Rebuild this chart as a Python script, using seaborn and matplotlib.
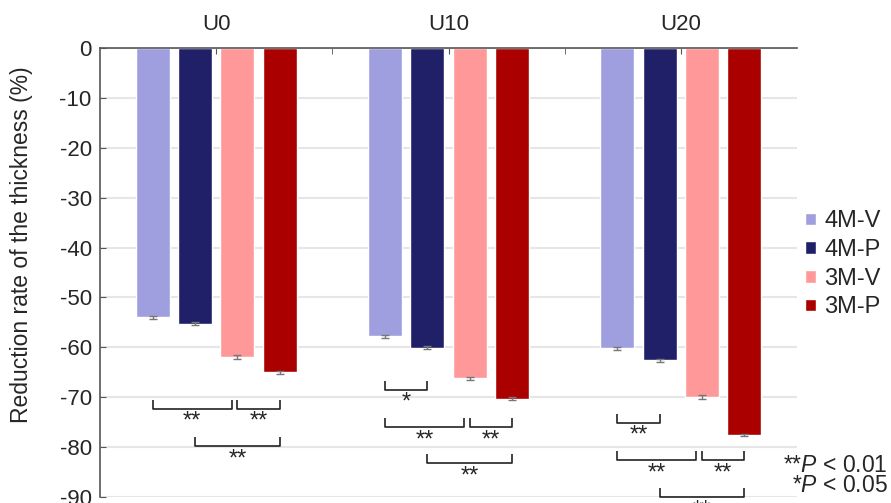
import matplotlib
matplotlib.use("Agg")
import matplotlib.pyplot as plt
from matplotlib.ticker import FixedLocator
import seaborn as sns
import pandas as pd

groups = ["U0", "U10", "U20"]
series = ["4M-V", "4M-P", "3M-V", "3M-P"]
vals_4MV = [-54.0, -57.8, -60.2]
vals_4MP = [-55.3, -60.1, -62.6]
vals_3MV = [-61.9, -66.2, -70.0]
vals_3MP = [-65.0, -70.3, -77.5]
err_4MV = [0.3, 0.3, 0.3]
err_4MP = [0.3, 0.3, 0.3]
err_3MV = [0.35, 0.35, 0.4]
err_3MP = [0.3, 0.35, 0.2]
colors = ["#9f9fdf", "#202068", "#ff9999", "#aa0000"]
yticks = [0, -10, -20, -30, -40, -50, -60, -70, -80, -90]

# significance: (group index, series i, series j, bracket bottom level, label)
sig = [
    (0, 0, 2, -72.3, "**"), (0, 2, 3, -72.3, "**"), (0, 1, 3, -79.8, "**"),
    (1, 0, 1, -68.5, "*"), (1, 0, 2, -76.0, "**"), (1, 2, 3, -76.0, "**"),
    (1, 1, 3, -83.2, "**"),
    (2, 0, 1, -75.1, "**"), (2, 0, 2, -82.6, "**"), (2, 2, 3, -82.6, "**"),
    (2, 1, 3, -90.0, "**"),
]

all_vals = [vals_4MV, vals_4MP, vals_3MV, vals_3MP]
all_errs = [err_4MV, err_4MP, err_3MV, err_3MP]
rows = []
for s, v in zip(series, all_vals):
    for g, val in zip(groups, v):
        rows.append({"group": g, "series": s, "value": val})
df = pd.DataFrame(rows)

sns.set_style("white")
plt.rcParams["font.family"] = ["Liberation Sans", "DejaVu Sans"]
plt.rcParams["mathtext.fontset"] = "custom"
plt.rcParams["mathtext.it"] = "Liberation Sans:italic"
plt.rcParams["mathtext.rm"] = "Liberation Sans"

fig = plt.figure(figsize=(8.91, 5.03), dpi=100)
ax = fig.add_axes([100 / 891, 1 - 497 / 503, 697 / 891, 449 / 503])

sns.barplot(data=df, x="group", y="value", hue="series", order=groups,
            hue_order=series, palette=colors, width=0.73, gap=0.2,
            errorbar=None, ax=ax, saturation=1)

bar_conts = [c for c in ax.containers]
centers = []
for k, cont in enumerate(bar_conts):
    xs = [b.get_x() + b.get_width() / 2 for b in cont.patches]
    centers.append(xs)
for k in range(len(series)):
    ax.errorbar(centers[k], all_vals[k], yerr=all_errs[k], fmt="none",
                ecolor="#777777", elinewidth=1, capsize=3, capthick=1, zorder=3)

h = 1.8
for g, i, j, yb, lab in sig:
    xi = centers[i][g]
    xj = centers[j][g]
    # shorten right end when another bracket starts at j on the same level
    if any(gg == g and ii == j and yy == yb for gg, ii, jj, yy, _ in sig):
        xj -= 0.025
    ax.plot([xi, xi, xj, xj], [yb + h, yb, yb, yb + h], color="#222222",
            lw=1.2, clip_on=False, solid_capstyle="butt", zorder=4)
    ax.annotate(lab, ((xi + xj) / 2, yb), xytext=(0, -1.5),
                textcoords="offset points", ha="center", va="top",
                fontsize=17, annotation_clip=False)

ax.set_ylim(-90, 0)
ax.set_xlim(-0.5, 2.5)
ax.set_yticks(yticks)
ax.set_yticklabels([str(t) for t in yticks], fontsize=16)
ax.set_ylabel("Reduction rate of the thickness (%)", fontsize=16.5)
ax.yaxis.set_label_coords(-0.096, 0.563)
ax.set_xlabel("")
ax.xaxis.tick_top()
ax.xaxis.set_minor_locator(FixedLocator([0.5, 1.5]))
ax.tick_params(axis="x", which="both", direction="in", length=4,
               color="#555555", labelsize=16, pad=9, top=True, bottom=False)
ax.tick_params(axis="y", direction="in", length=4, color="#555555", pad=6, left=True)
ax.yaxis.grid(True, color="#e6e6e6", lw=1.5)
ax.set_axisbelow(True)
for sp in ["right", "bottom"]:
    ax.spines[sp].set_visible(False)
for sp in ["top", "left"]:
    ax.spines[sp].set_color("#555555")
    ax.spines[sp].set_linewidth(1.2)

handles, labels = ax.get_legend_handles_labels()
if ax.get_legend() is not None:
    ax.get_legend().remove()
fig.legend(handles, labels, loc="upper left",
           bbox_to_anchor=(796 / 891, 1 - 201 / 503), frameon=False,
           fontsize=17, handlelength=0.45, handleheight=0.45,
           handletextpad=0.35, labelspacing=0.28, borderaxespad=0)

fig.text(888 / 891, 1 - 465 / 503, r"**$\mathit{P}$ < 0.01", ha="right",
         va="center", fontsize=16.5)
fig.text(888 / 891, 1 - 485 / 503, r"*$\mathit{P}$ < 0.05", ha="right",
         va="center", fontsize=16.5)

fig.savefig("out.png", dpi=100)
